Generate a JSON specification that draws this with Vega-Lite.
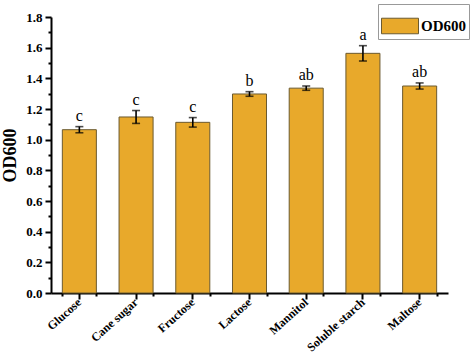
{
  "$schema": "https://vega.github.io/schema/vega-lite/v6.json",
  "width": 397,
  "height": 276,
  "autosize": "none",
  "padding": {"left": 51, "top": 17, "right": 26, "bottom": 61},
  "background": "white",
  "config": {
    "view": {"stroke": null},
    "font": "Liberation Serif",
    "axis": {"labelFont": "Liberation Serif", "titleFont": "Liberation Serif"},
    "legend": {"labelFont": "Liberation Serif"}
  },
  "data": {
    "values": [
      {"sugar": "Glucose", "od": 1.065, "err": 0.02, "sig": "c"},
      {"sugar": "Cane sugar", "od": 1.148, "err": 0.042, "sig": "c"},
      {"sugar": "Fructose", "od": 1.113, "err": 0.031, "sig": "c"},
      {"sugar": "Lactose", "od": 1.298, "err": 0.015, "sig": "b"},
      {"sugar": "Mannitol", "od": 1.336, "err": 0.014, "sig": "ab"},
      {"sugar": "Soluble starch", "od": 1.563, "err": 0.05, "sig": "a"},
      {"sugar": "Maltose", "od": 1.35, "err": 0.02, "sig": "ab"}
    ]
  },
  "resolve": {"axis": {"x": "independent", "y": "independent"}},
  "layer": [
    {
      "mark": {"type": "bar", "stroke": "#6b5a30", "strokeWidth": 1},
      "encoding": {
        "x": {
          "field": "sugar", "type": "nominal", "sort": null,
          "scale": {"paddingInner": 0.4, "paddingOuter": 0.2},
          "axis": {
            "title": null, "orient": "bottom", "labelAngle": -42,
            "labelAlign": "right", "labelBaseline": "middle",
            "labelFont": "Liberation Serif", "labelFontWeight": "bold", "labelFontSize": 12,
            "labelColor": "black", "domainColor": "black", "domainWidth": 2,
            "tickColor": "black", "tickWidth": 2, "tickSize": 6, "labelPadding": 1
          }
        },
        "y": {
          "field": "od", "type": "quantitative",
          "scale": {"domain": [0, 1.8], "nice": false},
          "axis": {
            "title": "OD600", "orient": "left", "values": [0, 0.2, 0.4, 0.6, 0.8, 1.0, 1.2, 1.4, 1.6, 1.8],
            "format": ".1f", "grid": false,
            "titleFont": "Liberation Serif", "titleFontWeight": "bold", "titleFontSize": 18, "titleColor": "black", "titlePadding": 6,
            "labelFont": "Liberation Serif", "labelFontWeight": "bold", "labelFontSize": 13, "labelColor": "black",
            "domainColor": "black", "domainWidth": 2, "tickColor": "black", "tickWidth": 2, "tickSize": 6, "labelPadding": 3
          }
        },
        "color": {
          "datum": "OD600",
          "scale": {"range": ["#E8A92B"]},
          "legend": {
            "title": null, "orient": "none", "legendX": 327, "legendY": -13,
            "strokeColor": "#999", "padding": 3, "fillColor": "white",
            "symbolType": "M-1,-0.42H1V0.42H-1Z", "symbolSize": 1369,
            "symbolStrokeColor": "#6b5a30", "symbolStrokeWidth": 1, "symbolOpacity": 1,
            "labelFont": "Liberation Serif", "labelFontWeight": "bold", "labelFontSize": 15, "labelColor": "black",
            "labelOffset": 2
          }
        }
      }
    },
    {
      "mark": {"type": "errorbar", "ticks": {"size": 8, "thickness": 1.6, "color": "black"}, "rule": {"strokeWidth": 1.6, "color": "black"}},
      "encoding": {
        "x": {
          "field": "sugar", "type": "nominal", "sort": null,
          "axis": {
            "orient": "bottom", "title": null, "labels": false, "domain": false,
            "tickBand": "extent", "tickColor": "black", "tickWidth": 2, "tickSize": 3
          }
        },
        "y": {
          "field": "od", "type": "quantitative",
          "axis": {
            "orient": "left", "title": null, "labels": false, "domain": false, "grid": false,
            "values": [0.1, 0.3, 0.5, 0.7, 0.9, 1.1, 1.3, 1.5, 1.7],
            "tickColor": "black", "tickWidth": 2, "tickSize": 3
          }
        },
        "yError": {"field": "err"}
      }
    },
    {
      "transform": [{"calculate": "datum.od + datum.err", "as": "top"}],
      "mark": {"type": "text", "baseline": "bottom", "dy": -3, "font": "Liberation Serif", "fontSize": 16, "color": "black"},
      "encoding": {
        "x": {"field": "sugar", "type": "nominal", "sort": null, "axis": null},
        "y": {"field": "top", "type": "quantitative", "axis": null},
        "text": {"field": "sig"}
      }
    }
  ]
}
